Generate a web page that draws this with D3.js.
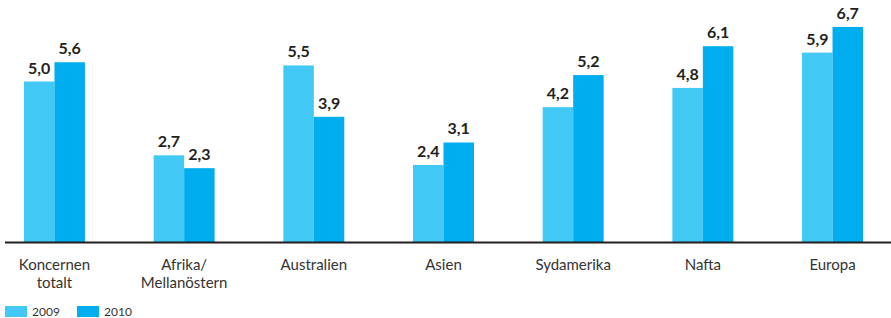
<!DOCTYPE html>
<html>
<head>
<meta charset="utf-8">
<script src="https://cdn.jsdelivr.net/npm/d3@7"></script>
<style>
  body { margin: 0; background: #fff; }
  svg { display: block; font-family: Lato, "Open Sans", sans-serif; }
</style>
</head>
<body>
<div id="chart"></div>
<script>
// data
var categories = [["Koncernen", "totalt"], ["Afrika/", "Mellanöstern"], ["Australien"], ["Asien"], ["Sydamerika"], ["Nafta"], ["Europa"]];
var series = ["2009", "2010"];
var values2009 = [5.0, 2.7, 5.5, 2.4, 4.2, 4.8, 5.9];
var values2010 = [5.6, 2.3, 3.9, 3.1, 5.2, 6.1, 6.7];
var colors = ["#41c8f4", "#00aeef"];

var width = 891, height = 318;
var baseline = 242;

var svg = d3.select("#chart").append("svg")
  .attr("width", width)
  .attr("height", height);

// x scale for groups, inner scale for the two years
var x = d3.scaleBand()
  .domain(d3.range(categories.length))
  .range([24, 863])
  .paddingInner(0.53)
  .paddingOuter(0);

var xInner = d3.scaleBand().domain(series).range([0, x.bandwidth()]);

var y = d3.scaleLinear().domain([0, 7]).range([baseline, baseline - 7 * 32.1]);

var rows = categories.map(function (c, i) {
  return { i: i, vals: [values2009[i], values2010[i]] };
});

var groups = svg.selectAll("g.grp").data(rows).enter()
  .append("g")
  .attr("class", "grp")
  .attr("transform", function (d) { return "translate(" + x(d.i) + ",0)"; });

groups.selectAll("rect").data(function (d) { return d.vals; }).enter()
  .append("rect")
  .attr("x", function (d, j) { return xInner(series[j]); })
  .attr("y", function (d) { return y(d); })
  .attr("width", xInner.bandwidth())
  .attr("height", function (d) { return baseline - y(d); })
  .attr("fill", function (d, j) { return colors[j]; });

groups.selectAll("text.val").data(function (d) { return d.vals; }).enter()
  .append("text")
  .attr("class", "val")
  .attr("x", function (d, j) { return xInner(series[j]) + xInner.bandwidth() / 2; })
  .attr("y", function (d) { return y(d) - 8; })
  .attr("text-anchor", "middle")
  .attr("font-size", "16px")
  .attr("font-weight", "bold")
  .attr("fill", "#231f20")
  .text(function (d) { return d.toFixed(1).replace(".", ","); });

// baseline axis
var xAxis = svg.append("g")
  .attr("transform", "translate(0," + baseline + ")")
  .call(d3.axisBottom(x).tickSize(0).tickFormat(""));
xAxis.select(".domain")
  .attr("d", "M5,0.5H891")
  .attr("stroke", "#231f20")
  .attr("stroke-width", 2.2);

// category labels
var labels = svg.selectAll("text.cat").data(categories).enter()
  .append("text")
  .attr("class", "cat")
  .attr("x", function (d, i) { return x(i) + x.bandwidth() / 2; })
  .attr("y", 270)
  .attr("text-anchor", "middle")
  .attr("font-size", "15px")
  .attr("fill", "#333");
labels.selectAll("tspan").data(function (d) { return d; }).enter()
  .append("tspan")
  .attr("x", function () { return d3.select(this.parentNode).attr("x"); })
  .attr("dy", function (d, k) { return k === 0 ? 0 : 18; })
  .text(function (d) { return d; });

// legend
var legend = svg.selectAll("g.leg").data(series).enter()
  .append("g")
  .attr("class", "leg")
  .attr("transform", function (d, i) { return "translate(" + (5 + i * 72) + ",306)"; });
legend.append("rect")
  .attr("width", 22).attr("height", 11)
  .attr("fill", function (d, i) { return colors[i]; });
legend.append("text")
  .attr("x", 27).attr("y", 10)
  .attr("font-size", "12px")
  .attr("fill", "#333")
  .text(function (d) { return d; });
</script>
</body>
</html>
